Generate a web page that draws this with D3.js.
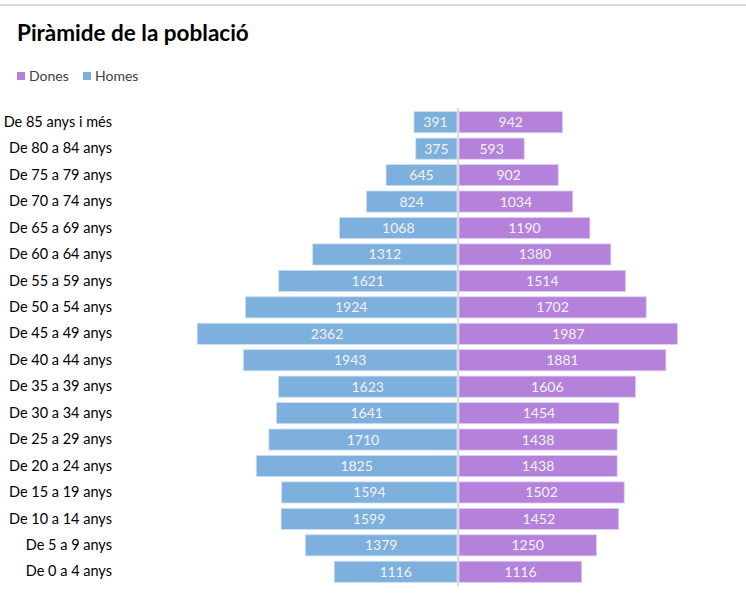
<!doctype html>
<html>
  <head>
    <style>
      body { margin: 0; background: #fff; }
      svg text { font-family: Lato, 'Open Sans', sans-serif; }
    </style>
  </head>
  <body>
    <svg id='chart0'></svg>

    <script src='https://d3js.org/d3.v7.min.js'></script>
    <script>
      // age groups, top of the chart first
      const groups = [
          'De 85 anys i més', 'De 80 a 84 anys', 'De 75 a 79 anys', 'De 70 a 74 anys',
          'De 65 a 69 anys', 'De 60 a 64 anys', 'De 55 a 59 anys', 'De 50 a 54 anys',
          'De 45 a 49 anys', 'De 40 a 44 anys', 'De 35 a 39 anys', 'De 30 a 34 anys',
          'De 25 a 29 anys', 'De 20 a 24 anys', 'De 15 a 19 anys', 'De 10 a 14 anys',
          'De 5 a 9 anys', 'De 0 a 4 anys'
      ];
      const homes = [391, 375, 645, 824, 1068, 1312, 1621, 1924, 2362, 1943,
                     1623, 1641, 1710, 1825, 1594, 1599, 1379, 1116];
      const dones = [942, 593, 902, 1034, 1190, 1380, 1514, 1702, 1987, 1881,
                     1606, 1454, 1438, 1438, 1502, 1452, 1250, 1116];
      const series = ['Dones', 'Homes'];

      const width = 746;
      const height = 600;
      const center = 458;
      const colors = { Dones: '#b482db', Homes: '#7eb0de' };

      const svg = d3.select('svg#chart0')
                    .attr('width', width)
                    .attr('height', height);

      // top rule
      svg.append('rect')
         .attr('x', 0).attr('y', 4)
         .attr('width', width).attr('height', 2)
         .attr('fill', '#d9d9d9');

      svg.append('text')
         .attr('x', 17).attr('y', 41)
         .attr('font-size', 22.5)
         .attr('font-weight', 'bold')
         .attr('fill', '#000')
         .text('Piràmide de la població');

      // legend
      const legend = svg.append('g').attr('transform', 'translate(17,76)');
      const legendX = [0, 66];
      series.forEach((s, i) => {
          const g = legend.append('g').attr('transform', `translate(${legendX[i]},0)`);
          g.append('rect').attr('x', 0).attr('y', -4).attr('width', 8).attr('height', 8)
           .attr('fill', colors[s]);
          g.append('text').attr('x', 12).attr('y', 0).attr('dy', '0.35em')
           .attr('font-size', 14).attr('fill', '#404040').text(s);
      });

      const y = d3.scaleBand()
                  .domain(groups)
                  .range([109, 585])
                  .paddingInner(0.2)
                  .paddingOuter(0.1);

      const x = d3.scaleLinear()
                  .domain([0, 2500])
                  .range([0, 275]);

      const rows = groups.map((g, i) => ({ group: g, homes: homes[i], dones: dones[i] }));

      // Homes, to the left of the axis
      svg.append('g')
         .selectAll('rect')
         .data(rows)
         .join('rect')
         .attr('x', d => center - 1 - x(d.homes))
         .attr('y', d => y(d.group))
         .attr('width', d => x(d.homes))
         .attr('height', y.bandwidth())
         .attr('fill', colors.Homes)
         .attr('stroke', '#cfe0f2')
         .attr('stroke-width', 0.8);

      // Dones, to the right
      svg.append('g')
         .selectAll('rect')
         .data(rows)
         .join('rect')
         .attr('x', center + 1)
         .attr('y', d => y(d.group))
         .attr('width', d => x(d.dones))
         .attr('height', y.bandwidth())
         .attr('fill', colors.Dones)
         .attr('stroke', '#e2cdf2')
         .attr('stroke-width', 0.8);

      const labels = svg.append('g')
                        .attr('font-size', 14)
                        .attr('fill', '#f2f2f2')
                        .attr('text-anchor', 'middle');
      labels.selectAll('text.h')
            .data(rows)
            .join('text')
            .attr('class', 'h')
            .attr('x', d => center - 1 - x(d.homes) / 2)
            .attr('y', d => y(d.group) + y.bandwidth() / 2)
            .attr('dy', '0.36em')
            .text(d => d.homes);
      labels.selectAll('text.d')
            .data(rows)
            .join('text')
            .attr('class', 'd')
            .attr('x', d => center + 1 + x(d.dones) / 2)
            .attr('y', d => y(d.group) + y.bandwidth() / 2)
            .attr('dy', '0.36em')
            .text(d => d.dones);

      // centre axis
      svg.append('line')
         .attr('x1', center).attr('x2', center)
         .attr('y1', 108).attr('y2', 586)
         .attr('stroke', '#d9d9d9')
         .attr('stroke-width', 2);

      // category axis
      const axis = svg.append('g')
                      .attr('transform', 'translate(112,0)')
                      .call(d3.axisLeft(y).tickSize(0).tickPadding(0));
      axis.select('.domain').remove();
      axis.selectAll('.tick text')
          .attr('font-size', 14.5)
          .attr('font-family', 'Lato, sans-serif')
          .attr('fill', '#000');
    </script>
  </body>
</html>
